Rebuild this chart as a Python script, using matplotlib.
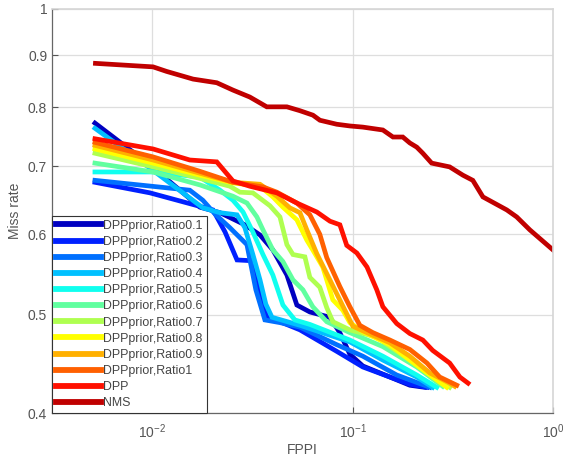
import matplotlib
matplotlib.use("Agg")
import matplotlib.pyplot as plt

plt.rcParams['font.family'] = ['Liberation Sans', 'DejaVu Sans']
plt.rcParams['mathtext.fontset'] = 'custom'
plt.rcParams['mathtext.rm'] = 'Liberation Sans'
plt.rcParams['mathtext.default'] = 'regular'

# FPPI / miss rate curves
r01_x = [0.00518, 0.00975, 0.0173, 0.0218, 0.0290, 0.0345, 0.0400, 0.0470, 0.0527, 0.0612, 0.0770, 0.0863, 0.0969, 0.1125, 0.1535, 0.193, 0.229]
r01_y = [0.772, 0.702, 0.638, 0.630, 0.613, 0.599, 0.579, 0.547, 0.511, 0.503, 0.497, 0.480, 0.457, 0.445, 0.434, 0.426, 0.424]

r02_x = [0.00518, 0.00975, 0.0201, 0.0231, 0.0265, 0.0314, 0.0353, 0.0374, 0.0434, 0.0546, 0.0834, 0.1125, 0.1535, 0.193, 0.235]
r02_y = [0.675, 0.659, 0.634, 0.603, 0.566, 0.565, 0.517, 0.497, 0.492, 0.483, 0.460, 0.444, 0.434, 0.427, 0.424]

r03_x = [0.00518, 0.0154, 0.0179, 0.0206, 0.0244, 0.0297, 0.0329, 0.0365, 0.0434, 0.0546, 0.0834, 0.1125, 0.166, 0.243]
r03_y = [0.678, 0.663, 0.648, 0.628, 0.609, 0.586, 0.529, 0.494, 0.491, 0.486, 0.467, 0.455, 0.436, 0.424]

r04_x = [0.00518, 0.00975, 0.0179, 0.0218, 0.0265, 0.0290, 0.0318, 0.0345, 0.0369, 0.0396, 0.0546, 0.0969, 0.1416, 0.209, 0.251]
r04_y = [0.763, 0.697, 0.637, 0.630, 0.627, 0.609, 0.573, 0.541, 0.512, 0.497, 0.488, 0.470, 0.451, 0.434, 0.424]

r05_x = [0.00518, 0.0101, 0.0173, 0.0218, 0.0253, 0.0284, 0.0318, 0.0357, 0.0400, 0.0449, 0.0515, 0.0612, 0.0969, 0.1416, 0.209, 0.263]
r05_y = [0.691, 0.691, 0.683, 0.663, 0.648, 0.631, 0.603, 0.573, 0.547, 0.511, 0.494, 0.489, 0.472, 0.455, 0.436, 0.424]

r06_x = [0.00518, 0.0101, 0.0173, 0.0253, 0.0297, 0.0333, 0.0357, 0.0400, 0.0449, 0.0504, 0.0565, 0.0633, 0.0743, 0.0969, 0.1416, 0.209, 0.2815]
r06_y = [0.705, 0.691, 0.671, 0.654, 0.644, 0.624, 0.606, 0.579, 0.564, 0.541, 0.529, 0.509, 0.492, 0.480, 0.465, 0.444, 0.425]

r07_x = [0.00518, 0.0101, 0.0173, 0.0244, 0.0274, 0.0318, 0.0387, 0.0434, 0.0470, 0.0504, 0.0578, 0.0612, 0.0686, 0.0743, 0.0797, 0.0969, 0.1321, 0.1535, 0.193, 0.251, 0.305]
r07_y = [0.721, 0.699, 0.681, 0.669, 0.660, 0.659, 0.640, 0.624, 0.586, 0.573, 0.570, 0.544, 0.532, 0.508, 0.492, 0.483, 0.475, 0.465, 0.451, 0.434, 0.424]

r08_x = [0.00518, 0.0101, 0.0173, 0.0253, 0.0345, 0.0400, 0.0449, 0.0527, 0.0591, 0.0633, 0.0710, 0.0797, 0.0894, 0.0969, 0.1125, 0.1535, 0.193, 0.243, 0.295]
r08_y = [0.728, 0.705, 0.686, 0.674, 0.669, 0.653, 0.638, 0.620, 0.592, 0.579, 0.557, 0.517, 0.505, 0.491, 0.481, 0.467, 0.451, 0.436, 0.424]

r09_x = [0.00518, 0.0101, 0.0173, 0.0253, 0.0345, 0.0419, 0.0486, 0.0546, 0.0591, 0.0663, 0.0770, 0.0863, 0.1003, 0.1178, 0.1535, 0.193, 0.243, 0.305, 0.323]
r09_y = [0.734, 0.710, 0.689, 0.675, 0.672, 0.654, 0.637, 0.630, 0.606, 0.574, 0.541, 0.517, 0.487, 0.480, 0.469, 0.455, 0.438, 0.428, 0.425]

r10_x = [0.00518, 0.0101, 0.0173, 0.0253, 0.0357, 0.0419, 0.0527, 0.0612, 0.0686, 0.0743, 0.0863, 0.0969, 0.1087, 0.1262, 0.1535, 0.193, 0.235, 0.272, 0.331]
r10_y = [0.739, 0.715, 0.692, 0.675, 0.668, 0.660, 0.644, 0.627, 0.600, 0.569, 0.533, 0.509, 0.488, 0.480, 0.472, 0.462, 0.448, 0.434, 0.426]

dpp_x = [0.00518, 0.0101, 0.0154, 0.0210, 0.0253, 0.0307, 0.0419, 0.0527, 0.0663, 0.0771, 0.0864, 0.0935, 0.105, 0.118, 0.132, 0.1416, 0.166, 0.193, 0.224, 0.251, 0.305, 0.343, 0.377]
dpp_y = [0.745, 0.728, 0.710, 0.707, 0.677, 0.669, 0.659, 0.644, 0.631, 0.618, 0.613, 0.585, 0.575, 0.557, 0.529, 0.509, 0.490, 0.479, 0.472, 0.461, 0.448, 0.434, 0.428]

nms_x = [0.00521, 0.0101, 0.0118, 0.0160, 0.0210, 0.0253, 0.0307, 0.0373, 0.0470, 0.0546, 0.0634, 0.0687, 0.0833, 0.0969, 0.1125, 0.1416, 0.159, 0.178, 0.193, 0.209, 0.224, 0.248, 0.305, 0.355, 0.398, 0.447, 0.588, 0.659, 0.766, 1.0]
nms_y = [0.884, 0.877, 0.868, 0.853, 0.846, 0.832, 0.819, 0.801, 0.801, 0.794, 0.786, 0.777, 0.770, 0.767, 0.765, 0.760, 0.748, 0.748, 0.738, 0.731, 0.721, 0.705, 0.699, 0.686, 0.678, 0.653, 0.634, 0.624, 0.606, 0.579]

labels = ["DPPprior,Ratio0.1", "DPPprior,Ratio0.2", "DPPprior,Ratio0.3", "DPPprior,Ratio0.4",
          "DPPprior,Ratio0.5", "DPPprior,Ratio0.6", "DPPprior,Ratio0.7", "DPPprior,Ratio0.8",
          "DPPprior,Ratio0.9", "DPPprior,Ratio1", "DPP", "NMS"]
colors = ["#0000C0", "#0020FF", "#0070FF", "#00C0FF", "#10FFEF", "#60FF9F",
          "#AFFF50", "#FFFF00", "#FFB000", "#FF6000", "#FF1000", "#C00000"]
curves = [(r01_x, r01_y), (r02_x, r02_y), (r03_x, r03_y), (r04_x, r04_y),
          (r05_x, r05_y), (r06_x, r06_y), (r07_x, r07_y), (r08_x, r08_y),
          (r09_x, r09_y), (r10_x, r10_y), (dpp_x, dpp_y), (nms_x, nms_y)]

yticks = [0.4, 0.5, 0.6, 0.7, 0.8, 0.9, 1.0]
ytick_labels = ["0.4", "0.5", "0.6", "0.7", "0.8", "0.9", "1"]
xticks = [0.01, 0.1, 1.0]
xtick_labels = [r"$10^{-2}$", r"$10^{-1}$", r"$10^{0}$"]

fig = plt.figure(figsize=(5.63, 4.61), dpi=100)
ax = fig.add_axes([52 / 563, 1 - 413 / 461, 501 / 563, 404 / 461])

for (xs, ys), lab, col in zip(curves, labels, colors):
    ax.plot(xs, ys, color=col, lw=3.4, label=lab, solid_joinstyle='miter')

ax.set_xscale('log')
ax.set_yscale('log')
ax.set_xlim(10 ** -2.5, 1.0)
ax.set_ylim(0.4, 1.0)

ax.set_xticks(xticks)
ax.set_xticklabels(xtick_labels)
ax.set_yticks(yticks)
ax.set_yticklabels(ytick_labels)
ax.minorticks_off()

txt_col = "#555555"
ax.tick_params(axis='both', direction='in', length=4, width=0.8, colors=txt_col,
               labelsize=10, labelcolor=txt_col)
ax.tick_params(axis='x', pad=7)
ax.grid(True, color="#dedede", lw=0.9)
ax.set_axisbelow(True)

for side in ['left', 'bottom']:
    ax.spines[side].set_color("#666666")
    ax.spines[side].set_linewidth(0.9)
for side in ['top', 'right']:
    ax.spines[side].set_color("#d6d6d6")
    ax.spines[side].set_linewidth(1.2)

ax.set_xlabel("FPPI", fontsize=10, color=txt_col, labelpad=1)
ax.set_ylabel("Miss rate", fontsize=10, color=txt_col, labelpad=4)

leg = ax.legend(loc='lower left', bbox_to_anchor=(0, 0), borderaxespad=0,
                fontsize=8.9, handlelength=3.7, handletextpad=0.15,
                labelspacing=0.335, borderpad=0.3, fancybox=False,
                framealpha=1, edgecolor="#333333")
leg.get_frame().set_linewidth(0.8)
for t in leg.get_texts():
    t.set_color("#444444")
for h in leg.get_lines():
    h.set_linewidth(4.2)

fig.savefig("out.png", dpi=100)
